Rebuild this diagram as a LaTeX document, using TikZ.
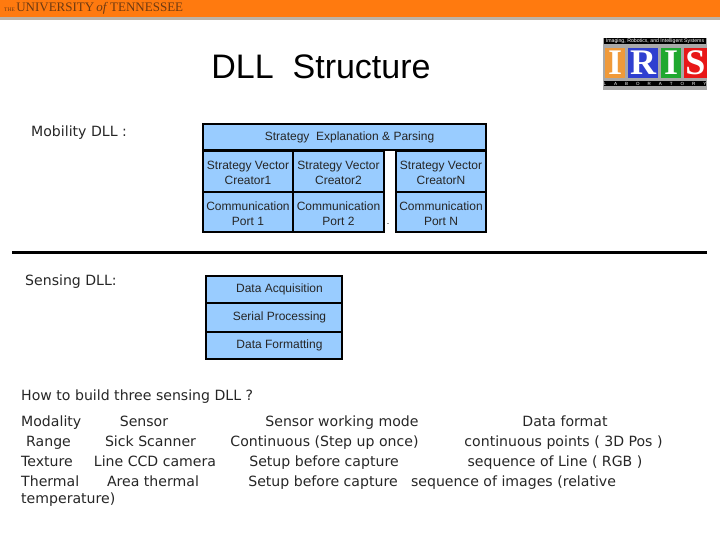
\documentclass[tikz,border=0pt]{standalone}
\usepackage{fontspec}
\setmainfont{Liberation Sans}
\newfontfamily\bodyfont{DejaVu Sans}
\newfontfamily\crestfont{Liberation Serif}
\definecolor{barorange}{HTML}{FF7A0F}
\definecolor{bargray}{HTML}{BDB3A6}
\definecolor{crestbrown}{HTML}{6E3A12}
\definecolor{cellblue}{HTML}{99CCFF}
\definecolor{logogray}{HTML}{A8A8A8}
\definecolor{logoorange}{HTML}{F09A3A}
\definecolor{logoblue}{HTML}{2F3FD0}
\definecolor{logogreen}{HTML}{1FA82F}
\definecolor{logored}{HTML}{E81818}
\newcommand{\cellrows}[2]{\rule{0pt}{11.5pt}#1\\#2}
\begin{document}
\begin{tikzpicture}[
  x=1pt,y=-1pt,
  cell/.style={draw=black,line width=1.6pt,fill=cellblue,inner sep=0pt,align=center,
    font=\fontsize{12}{15}\selectfont,text=black!85},
  stackcell/.style={cell,minimum width=136pt,minimum height=27pt},
  vectorcell/.style={cell,minimum width=90pt,minimum height=40.5pt},
  label/.style={anchor=west,inner sep=0pt,text height=10pt,text depth=3pt,
    font=\bodyfont\fontsize{14.1}{16}\selectfont,text=black!85},
  tablecell/.style={inner sep=0pt,text height=10pt,text depth=3pt,
    font=\bodyfont\fontsize{14.1}{16}\selectfont,text=black!85},
  letter/.style={inner sep=0pt,font=\crestfont\bfseries\fontsize{36}{36}\selectfont,text=white}
]
  \useasboundingbox (0,0) rectangle (720,540);
  % header bar
  \fill[barorange] (0,0) rectangle (720,17);
  \fill[bargray] (0,17) rectangle (720,20);
  \node[anchor=west,inner sep=0pt,text=crestbrown,font=\crestfont\fontsize{13}{14}\selectfont] (crest) at (4,8.5)
    {\fontsize{5.5}{7}\selectfont THE\ \fontsize{13}{14}\selectfont UNIVERSITY\,\textit{of}\,TENNESSEE};

  % title and logo
  \node[inner sep=0pt,font=\fontsize{34}{38}\selectfont] (title) at (321,67) {DLL\ \ Structure};
  \fill[logogray] (603,38) rectangle (707,90);
  \fill[black] (604,38) rectangle (706,44);
  \node[inner sep=0pt,text=white,font=\fontsize{5.2}{6}\selectfont] (logotop) at (655,41) {Imaging, Robotics, and Intelligent Systems};
  \fill[logoorange] (605,48) rectangle (625,78);
  \fill[logoblue] (628,48) rectangle (658,78);
  \fill[logogreen] (661,48) rectangle (681,78);
  \fill[logored] (684,48) rectangle (707,78);
  \node[letter] (logoI) at (615,63) {I};
  \node[letter] (logoR) at (643,63) {R};
  \node[letter] (logoJ) at (671,63) {I};
  \node[letter] (logoS) at (695.5,63) {S};
  \fill[black] (604,81) rectangle (706,86);
  \node[inner sep=0pt,text=white,font=\fontsize{4.5}{5}\selectfont] (logobottom) at (655,83.5)
    {L\hspace{8pt}A\hspace{8pt}B\hspace{8pt}O\hspace{8pt}R\hspace{8pt}A\hspace{8pt}T\hspace{8pt}O\hspace{8pt}R\hspace{8pt}Y};

  % mobility
  \node[label] (mobility) at (31,133) {Mobility DLL :};
  \node[cell,minimum width=283pt,minimum height=26pt] (parsing) at (344.5,137)
    {\hspace{10pt}\raisebox{-1pt}{Strategy\ \ Explanation \& Parsing}};
  \node[vectorcell] (creator1) at (248,171.5) {\cellrows{Strategy Vector}{Creator1}};
  \node[vectorcell,minimum width=91pt] (creator2) at (338.5,171.5) {\cellrows{Strategy Vector}{Creator2}};
  \node[vectorcell] (creatorN) at (441,171.5) {\cellrows{Strategy Vector}{CreatorN}};
  \node[vectorcell] (port1) at (248,212) {\cellrows{Communication}{Port 1}};
  \node[vectorcell,minimum width=91pt] (port2) at (338.5,212) {\cellrows{Communication}{Port 2}};
  \node[vectorcell] (portN) at (441,212) {\cellrows{Communication}{Port N}};
  \node[inner sep=0pt,font=\fontsize{9}{10}\selectfont] (gapdot) at (388,224) {.};

  % divider
  \coordinate (ruleL) at (12,252);
  \coordinate (ruleR) at (707,252);
  \draw[line width=3pt] (ruleL) -- (ruleR);

  % sensing
  \node[label] (sensing) at (25,282) {Sensing DLL:};
  \node[stackcell] (acquisition) at (274,289.5) {\hspace{11pt}\raisebox{-1pt}{Data Acquisition}};
  \node[stackcell,minimum height=29pt] (serial) at (274,317.5) {\hspace{11pt}\raisebox{-1pt}{Serial Processing}};
  \node[stackcell] (formatting) at (274,345.5) {\hspace{11pt}\raisebox{-1pt}{Data Formatting}};

  % table
  \node[label] (question) at (21,397) {How to build three sensing DLL ?};
  \node[label] (modality) at (21,423) {Modality};
  \node[tablecell] (sensor) at (144,423) {Sensor};
  \node[tablecell] (mode) at (342,423) {Sensor working mode};
  \node[tablecell] (format) at (565,423) {Data format};
  \node[label] (range) at (26,443) {Range};
  \node[tablecell] (sick) at (150.5,443) {Sick Scanner};
  \node[tablecell] (continuous) at (324.5,443) {Continuous (Step up once)};
  \node[tablecell] (points) at (563.5,443) {continuous points ( 3D Pos )};
  \node[label] (texture) at (21,463) {Texture};
  \node[tablecell] (ccd) at (155,463) {Line CCD camera};
  \node[tablecell] (setupA) at (324,463) {Setup before capture};
  \node[tablecell] (line) at (555,463) {sequence of Line ( RGB )};
  \node[label] (thermal) at (21,483) {Thermal};
  \node[tablecell] (area) at (153,483) {Area thermal};
  \node[tablecell] (setupB) at (323,483) {Setup before capture};
  \node[tablecell] (images) at (513.5,483) {sequence of images (relative};
  \node[label] (temperature) at (21,500) {temperature)};
\end{tikzpicture}
\end{document}
